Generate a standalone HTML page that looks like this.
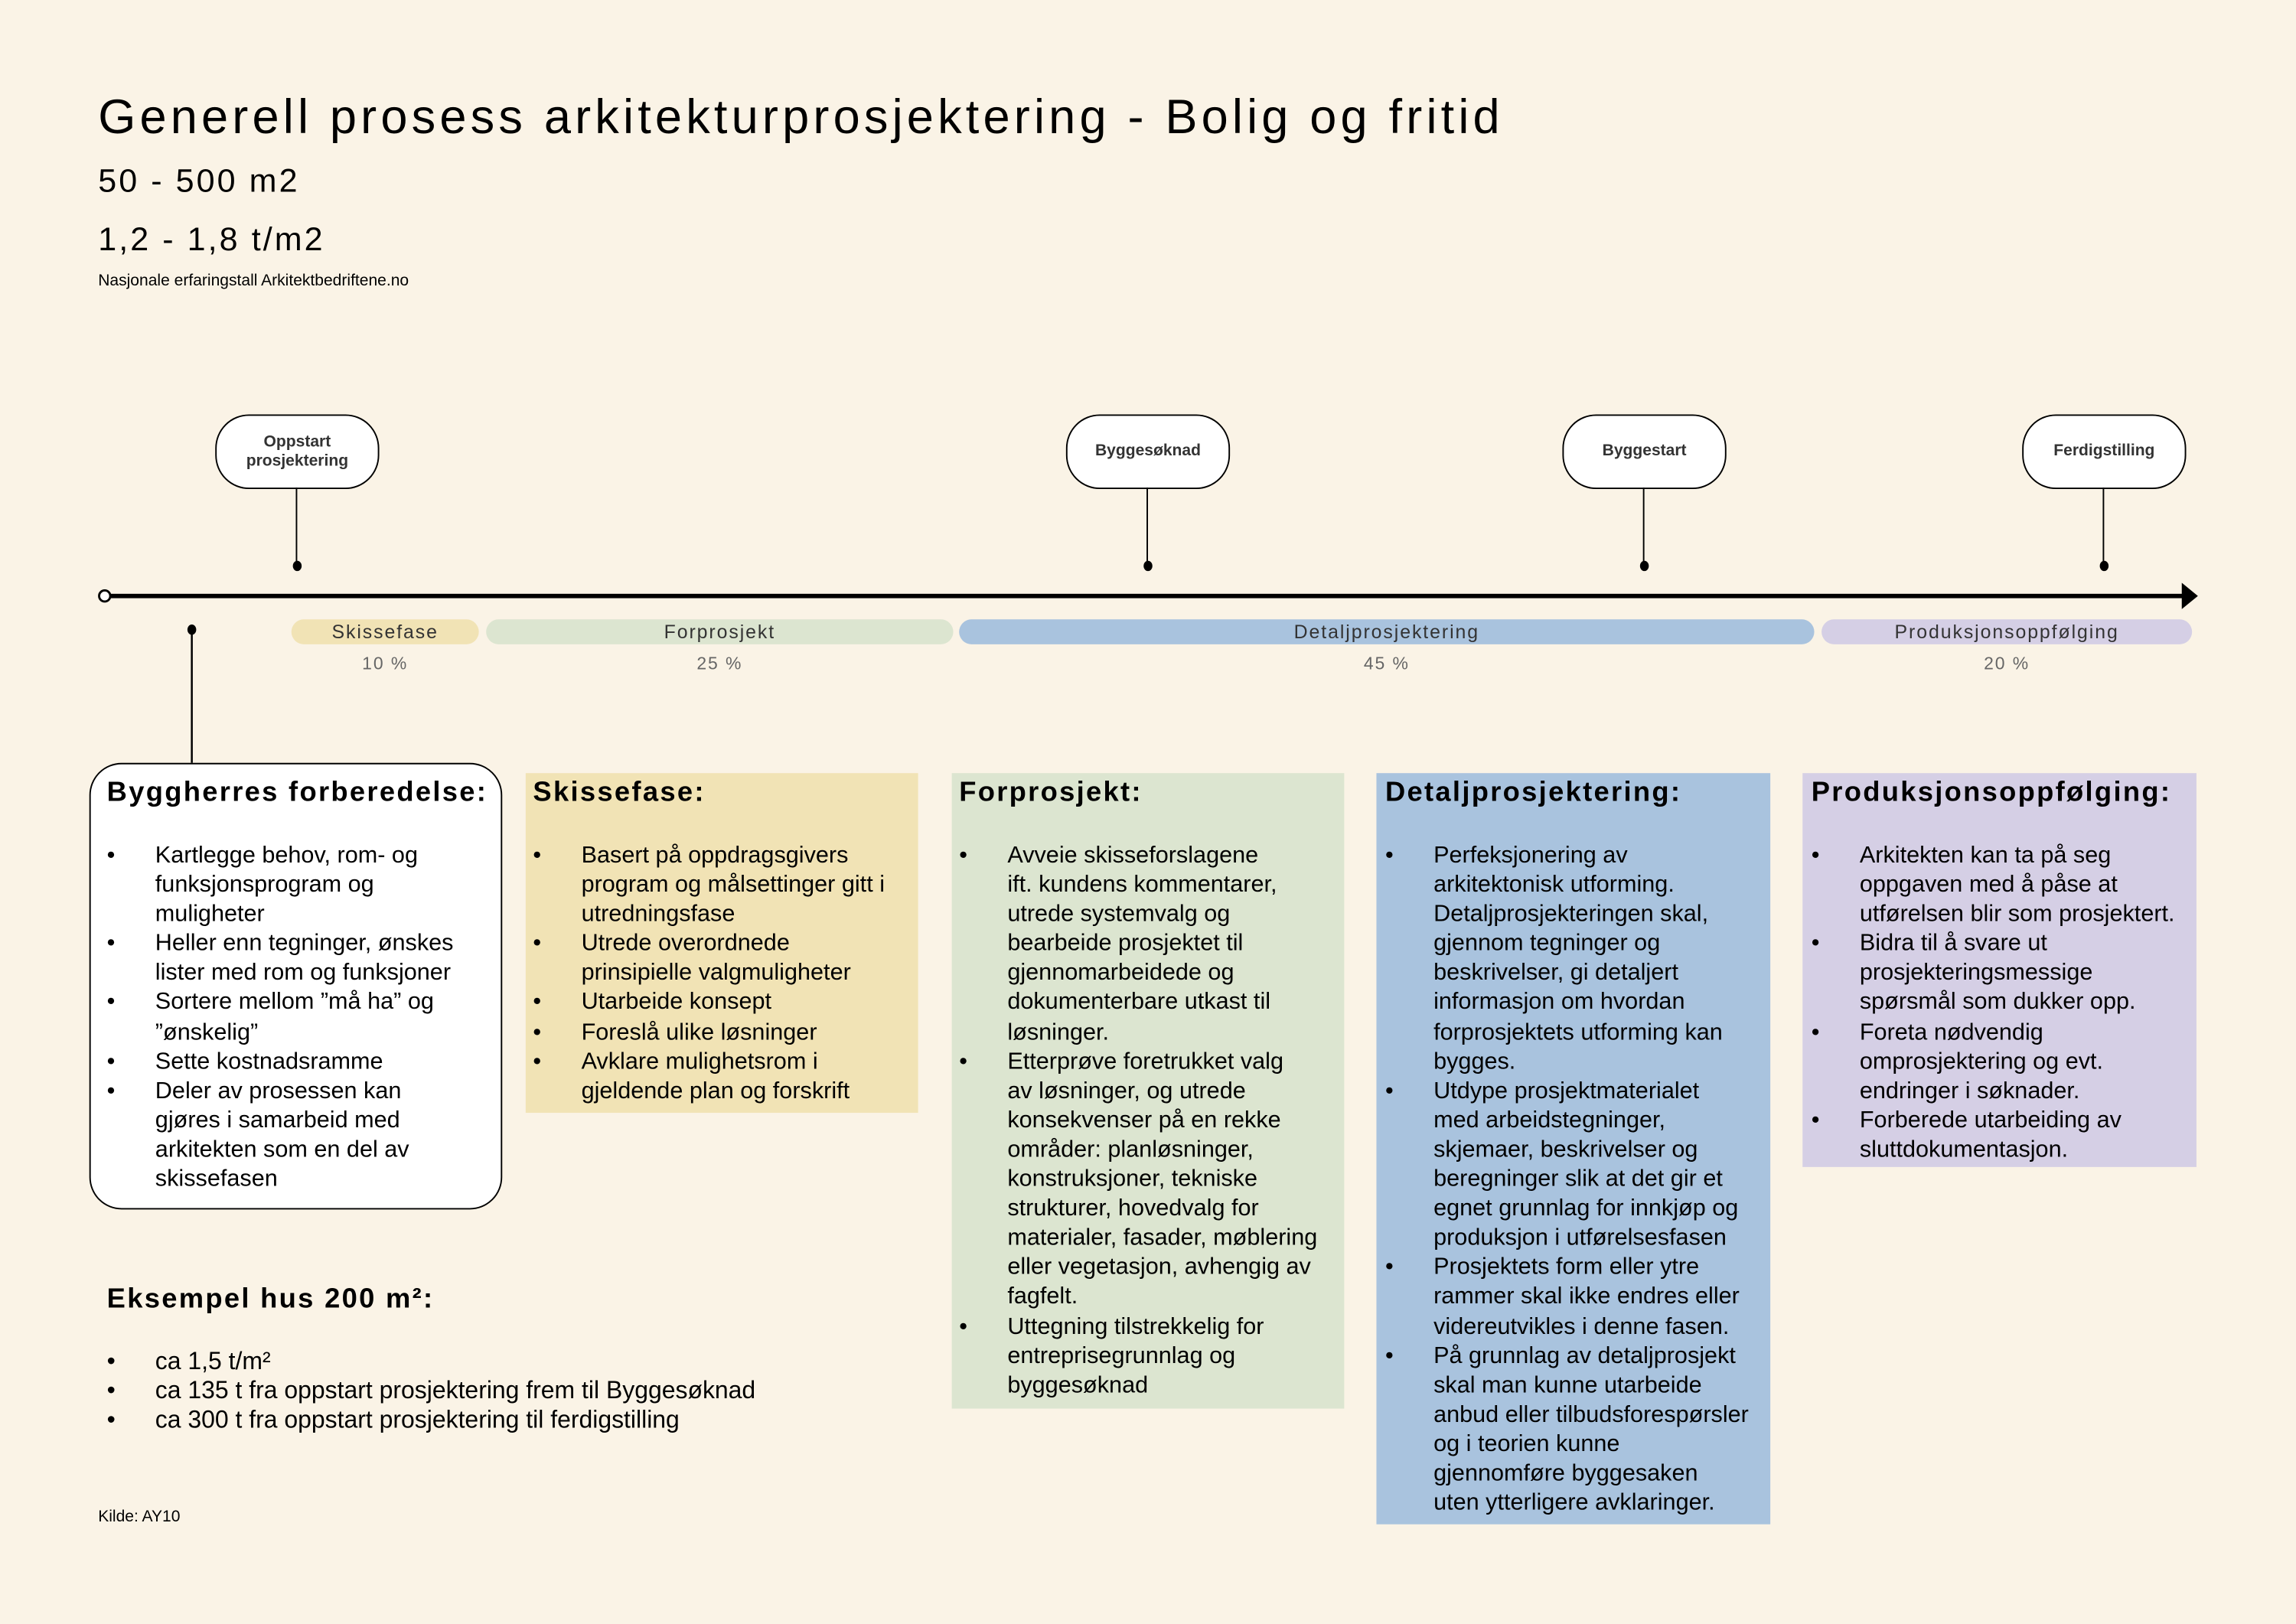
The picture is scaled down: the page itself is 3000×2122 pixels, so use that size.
<!DOCTYPE html>
<html><head><meta charset="utf-8">
<style>
html,body{margin:0;padding:0;width:3000px;height:2121px;overflow:hidden;background:#faf3e6;}
#s{position:absolute;left:0;top:0;width:1568px;height:1109px;transform:scale(1.913265);transform-origin:0 0;font-family:"Liberation Sans",sans-serif;color:#000;}
.a{position:absolute;white-space:nowrap;}
.ms{position:absolute;top:283px;width:110px;height:49px;border:1.3px solid #000;border-radius:23px;background:#fff;font-weight:bold;font-size:11px;color:#333;display:flex;align-items:center;justify-content:center;text-align:center;line-height:13px;}
.stem{position:absolute;width:1.3px;background:#000;}
.dot{position:absolute;width:6px;height:7px;border-radius:50%;background:#000;}
.pill{position:absolute;top:423px;height:17px;border-radius:9px;font-size:13px;letter-spacing:1px;color:#333;text-align:center;line-height:17px;}
.pct{position:absolute;top:446px;font-size:12px;letter-spacing:1px;color:#666;text-align:center;}
.box{position:absolute;top:528px;}
.h{position:absolute;left:5px;top:531px;font-weight:bold;font-size:19px;letter-spacing:1.2px;}
.l{position:absolute;font-size:16px;line-height:20.1px;white-space:nowrap;}
.l div{position:relative;padding-left:33px;}
.l div:before{content:"•";position:absolute;left:0;top:0;}
</style></head><body><div id="s">
<div class="a" style="left:67px;top:61px;font-size:33px;letter-spacing:2.7px;">Generell prosess arkitekturprosjektering - Bolig og fritid</div>
<div class="a" style="left:67px;top:111px;font-size:22.5px;letter-spacing:1.6px;">50 - 500 m2</div>
<div class="a" style="left:67px;top:151px;font-size:22.5px;letter-spacing:1.6px;">1,2 - 1,8 t/m2</div>
<div class="a" style="left:67px;top:186px;font-size:11px;">Nasjonale erfaringstall Arkitektbedriftene.no</div>

<div class="ms" style="left:147px;">Oppstart<br>prosjektering</div>
<div class="ms" style="left:728px;">Byggesøknad</div>
<div class="ms" style="left:1067px;">Byggestart</div>
<div class="ms" style="left:1381px;">Ferdigstilling</div>
<div class="stem" style="left:202px;top:333px;height:52px;"></div><div class="dot" style="left:200px;top:383px;"></div>
<div class="stem" style="left:783px;top:333px;height:52px;"></div><div class="dot" style="left:781px;top:383px;"></div>
<div class="stem" style="left:1122px;top:333px;height:52px;"></div><div class="dot" style="left:1120px;top:383px;"></div>
<div class="stem" style="left:1436px;top:333px;height:52px;"></div><div class="dot" style="left:1434px;top:383px;"></div>

<svg class="a" style="left:0;top:0;" width="1568" height="1109">
<line x1="75" y1="407" x2="1492" y2="407" stroke="#000" stroke-width="3"/>
<circle cx="71.5" cy="407" r="3.8" fill="#fff" stroke="#000" stroke-width="1.5"/>
<polygon points="1490,398 1501,407 1490,416" fill="#000"/>
<line x1="131" y1="430" x2="131" y2="521" stroke="#000" stroke-width="1.3"/>
<ellipse cx="131" cy="430" rx="3" ry="3.5" fill="#000"/>
</svg>

<div class="pill" style="left:199px;width:128px;background:#f1e3b5;">Skissefase</div>
<div class="pill" style="left:332px;width:319px;background:#dce5d0;">Forprosjekt</div>
<div class="pill" style="left:655px;width:584px;background:#a9c3de;">Detaljprosjektering</div>
<div class="pill" style="left:1244px;width:253px;background:#d5cfe5;">Produksjonsoppfølging</div>
<div class="pct" style="left:199px;width:128px;">10 %</div>
<div class="pct" style="left:332px;width:319px;">25 %</div>
<div class="pct" style="left:655px;width:584px;">45 %</div>
<div class="pct" style="left:1244px;width:253px;">20 %</div>

<div class="box" style="left:61px;top:521px;width:280px;height:303px;background:#fff;border:1.5px solid #000;border-radius:22px;"></div>
<div class="h" style="left:73px;">Byggherres forberedelse:</div>
<div class="l" style="left:73px;top:575px;">
<div>Kartlegge behov, rom- og<br>funksjonsprogram og<br>muligheter</div>
<div>Heller enn tegninger, ønskes<br>lister med rom og funksjoner</div>
<div>Sortere mellom ”må ha” og<br>”ønskelig”</div>
<div>Sette kostnadsramme</div>
<div>Deler av prosessen kan<br>gjøres i samarbeid med<br>arkitekten som en del av<br>skissefasen</div>
</div>

<div class="box" style="left:359px;width:268px;height:232px;background:#f1e3b5;"></div>
<div class="h" style="left:364px;">Skissefase:</div>
<div class="l" style="left:364px;top:575px;">
<div>Basert på oppdragsgivers<br>program og målsettinger gitt i<br>utredningsfase</div>
<div>Utrede overordnede<br>prinsipielle valgmuligheter</div>
<div>Utarbeide konsept</div>
<div>Foreslå ulike løsninger</div>
<div>Avklare mulighetsrom i<br>gjeldende plan og forskrift</div>
</div>

<div class="box" style="left:650px;width:268px;height:434px;background:#dce5d0;"></div>
<div class="h" style="left:655px;">Forprosjekt:</div>
<div class="l" style="left:655px;top:575px;">
<div>Avveie skisseforslagene<br>ift. kundens kommentarer,<br>utrede systemvalg og<br>bearbeide prosjektet til<br>gjennomarbeidede og<br>dokumenterbare utkast til<br>løsninger.</div>
<div>Etterprøve foretrukket valg<br>av løsninger, og utrede<br>konsekvenser på en rekke<br>områder: planløsninger,<br>konstruksjoner, tekniske<br>strukturer, hovedvalg for<br>materialer, fasader, møblering<br>eller vegetasjon, avhengig av<br>fagfelt.</div>
<div>Uttegning tilstrekkelig for<br>entreprisegrunnlag og<br>byggesøknad</div>
</div>

<div class="box" style="left:940px;width:269px;height:513px;background:#a9c3de;"></div>
<div class="h" style="left:946px;">Detaljprosjektering:</div>
<div class="l" style="left:946px;top:575px;">
<div>Perfeksjonering av<br>arkitektonisk utforming.<br>Detaljprosjekteringen skal,<br>gjennom tegninger og<br>beskrivelser, gi detaljert<br>informasjon om hvordan<br>forprosjektets utforming kan<br>bygges.</div>
<div>Utdype prosjektmaterialet<br>med arbeidstegninger,<br>skjemaer, beskrivelser og<br>beregninger slik at det gir et<br>egnet grunnlag for innkjøp og<br>produksjon i utførelsesfasen</div>
<div>Prosjektets form eller ytre<br>rammer skal ikke endres eller<br>videreutvikles i denne fasen.</div>
<div>På grunnlag av detaljprosjekt<br>skal man kunne utarbeide<br>anbud eller tilbudsforespørsler<br>og i teorien kunne<br>gjennomføre byggesaken<br>uten ytterligere avklaringer.</div>
</div>

<div class="box" style="left:1231px;width:269px;height:269px;background:#d5cfe5;"></div>
<div class="h" style="left:1237px;">Produksjonsoppfølging:</div>
<div class="l" style="left:1237px;top:575px;">
<div>Arkitekten kan ta på seg<br>oppgaven med å påse at<br>utførelsen blir som prosjektert.</div>
<div>Bidra til å svare ut<br>prosjekteringsmessige<br>spørsmål som dukker opp.</div>
<div>Foreta nødvendig<br>omprosjektering og evt.<br>endringer i søknader.</div>
<div>Forberede utarbeiding av<br>sluttdokumentasjon.</div>
</div>

<div class="h" style="left:73px;top:877px;">Eksempel hus 200 m²:</div>
<div class="l" style="left:73px;top:920px;font-size:16.7px;">
<div>ca 1,5 t/m²</div>
<div>ca 135 t fra oppstart prosjektering frem til Byggesøknad</div>
<div>ca 300 t fra oppstart prosjektering til ferdigstilling</div>
</div>
<div class="a" style="left:67px;top:1030px;font-size:11px;">Kilde: AY10</div>
</div></body></html>
